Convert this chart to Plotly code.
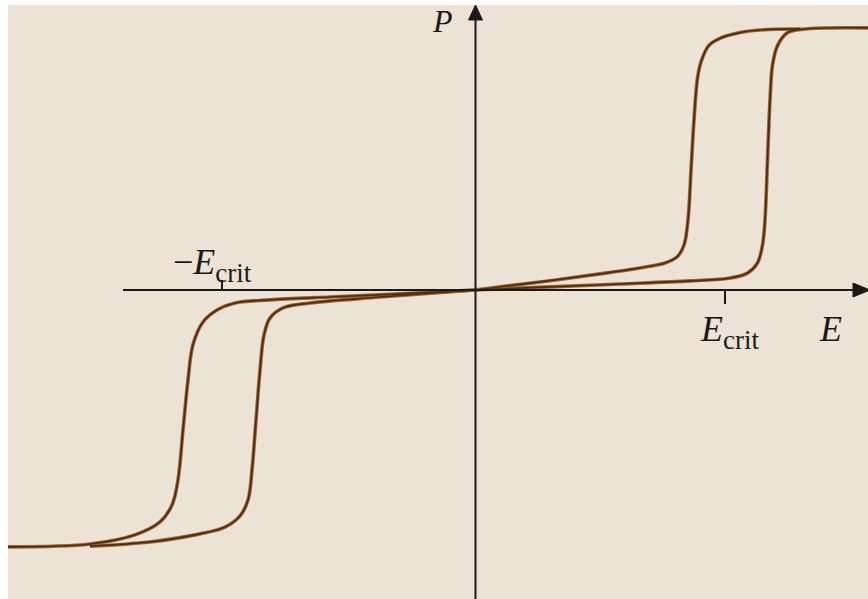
import plotly.graph_objects as go

# Double hysteresis loop, field E in units of E_crit, polarisation P in units of P_sat.
# Right loop: branch swept up in field (outer) and branch swept back down (inner).
right_up_E = [0.00, 0.30, 0.58, 0.86, 1.02, 1.09, 1.13, 1.15, 1.16, 1.17, 1.18, 1.19, 1.21, 1.25, 1.32, 1.58]
right_up_P = [0.000, 0.012, 0.023, 0.035, 0.046, 0.065, 0.104, 0.173, 0.270, 0.500, 0.730, 0.865, 0.940, 0.990, 1.004, 1.008]

right_down_E = [1.30, 1.14, 1.06, 0.98, 0.935, 0.905, 0.89, 0.876, 0.864, 0.852, 0.836, 0.808, 0.76, 0.66, 0.50, 0.26, 0.00]
right_down_P = [1.004, 1.000, 0.990, 0.968, 0.940, 0.880, 0.815, 0.654, 0.460, 0.270, 0.173, 0.127, 0.104, 0.085, 0.062, 0.031, 0.000]

# Left loop: branch swept to negative field (outer) and branch returning (inner).
left_down_E = [0.00, -0.30, -0.58, -0.82, -0.96, -1.032, -1.088, -1.128, -1.148, -1.168, -1.188, -1.212, -1.26, -1.36, -1.54, -1.87]
left_down_P = [0.000, -0.015, -0.027, -0.038, -0.050, -0.077, -0.123, -0.210, -0.346, -0.538, -0.730, -0.827, -0.892, -0.942, -0.977, -0.988]

left_up_E = [-1.54, -1.30, -1.10, -1.00, -0.94, -0.908, -0.892, -0.876, -0.86, -0.844, -0.82, -0.768, -0.66, -0.38, 0.00]
left_up_P = [-0.985, -0.969, -0.938, -0.912, -0.869, -0.808, -0.692, -0.500, -0.308, -0.173, -0.108, -0.069, -0.050, -0.027, 0.000]

tick_E = [-1.0, 1.0]

X_RANGE = [-1.868, 1.572]
Y_RANGE = [-1.1885, 1.0962]

BG = "#ECE2D6"
INK = "#1c1a18"
CURVE_OUTER = "#9A6532"
CURVE_INNER = "#4F2D14"
SERIF = "Liberation Serif"

fig = go.Figure()

branches = [
    (right_up_E, right_up_P),
    (right_down_E, right_down_P),
    (left_down_E, left_down_P),
    (left_up_E, left_up_P),
]
for color, width in [(CURVE_OUTER, 3.6), (CURVE_INNER, 1.7)]:
    for ex, py in branches:
        fig.add_trace(go.Scatter(
            x=ex, y=py, mode="lines",
            line=dict(color=color, width=width, shape="spline", smoothing=1.0),
            hoverinfo="skip", showlegend=False,
        ))

# Axes drawn as arrows through the origin
sx = 1 / 250.0  # data units per pixel, horizontal
sy = 1 / 260.0  # data units per pixel, vertical
shapes = [
    dict(type="line", x0=-1.408, y0=0, x1=X_RANGE[1] - 14 * sx, y1=0,
         line=dict(color=INK, width=2)),
    dict(type="line", x0=0.002, y0=Y_RANGE[0], x1=0.002, y1=Y_RANGE[1] - 12 * sy,
         line=dict(color=INK, width=2)),
    dict(type="path",
         path=f"M {X_RANGE[1] + 2 * sx},0 L {X_RANGE[1] - 15 * sx},{7 * sy} L {X_RANGE[1] - 15 * sx},{-7 * sy} Z",
         fillcolor=INK, line=dict(color=INK, width=1)),
    dict(type="path",
         path=f"M 0.002,{Y_RANGE[1]} L {0.002 - 7 * sx},{Y_RANGE[1] - 15 * sy} L {0.002 + 7 * sx},{Y_RANGE[1] - 15 * sy} Z",
         fillcolor=INK, line=dict(color=INK, width=1)),
    # tick marks at -E_crit (above the axis) and E_crit (below the axis)
    dict(type="line", x0=tick_E[0] - 0.012, y0=0, x1=tick_E[0] - 0.012, y1=10 * sy,
         line=dict(color=INK, width=2)),
    dict(type="line", x0=tick_E[1], y0=0, x1=tick_E[1], y1=-14 * sy,
         line=dict(color=INK, width=2)),
]

SUB = "<sub><span style='font-size:27px'>crit</span></sub>"
annotations = [
    dict(x=-0.13, y=1.035, text="<i>P</i>", showarrow=False,
         font=dict(family=SERIF, size=32, color=INK), xanchor="center", yanchor="middle"),
    dict(x=1.42, y=-0.15, text="<i>E</i>", showarrow=False,
         font=dict(family=SERIF, size=36, color=INK), xanchor="center", yanchor="middle"),
    dict(x=1.016, y=-0.16, text="<i>E</i>" + SUB, showarrow=False,
         font=dict(family=SERIF, size=36, color=INK), xanchor="center", yanchor="middle"),
    dict(x=-1.05, y=0.095, text="\u2212<i>E</i>" + SUB, showarrow=False,
         font=dict(family=SERIF, size=36, color=INK), xanchor="center", yanchor="middle"),
]

fig.update_layout(
    width=868, height=599,
    margin=dict(l=8, r=0, t=5, b=0),
    paper_bgcolor="white",
    plot_bgcolor=BG,
    xaxis=dict(range=X_RANGE, visible=False, fixedrange=True),
    yaxis=dict(range=Y_RANGE, visible=False, fixedrange=True),
    shapes=shapes,
    annotations=annotations,
)

fig.write_html("out.html")
